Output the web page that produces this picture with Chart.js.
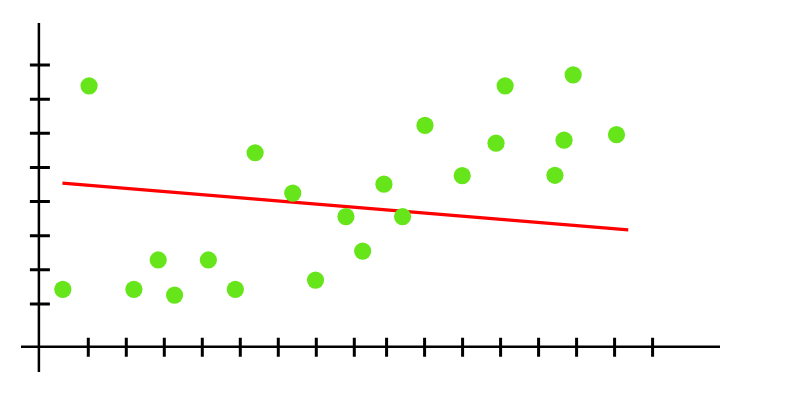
<!DOCTYPE html>
<html>
<head>
<meta charset="utf-8">
<script src="https://cdn.jsdelivr.net/npm/chart.js@4"></script>
<style>
  html, body { margin: 0; padding: 0; background: #ffffff; }
  #c { display: block; }
</style>
</head>
<body>
<canvas id="c" width="812" height="395"></canvas>
<script>
// ---- data ----
const pointsX = [0.33, 1.02, 2.20, 2.84, 3.27, 4.16, 4.87, 5.39, 6.38, 6.98, 7.78, 8.22, 8.78, 9.27, 9.86, 10.84, 11.73, 11.97, 13.28, 13.52, 13.76, 14.90];
const pointsY = [1.43, 7.39, 1.43, 2.29, 1.26, 2.29, 1.43, 5.43, 4.25, 1.70, 3.56, 2.55, 4.51, 3.56, 6.23, 4.76, 5.71, 7.39, 4.77, 5.80, 7.71, 5.96];
const trendX = [0.32, 15.21];
const trendY = [4.54, 3.17];
const xTicks = [1, 2, 3, 4, 5, 6, 7, 8, 8.85, 9.85, 10.85, 11.85, 12.85, 13.85, 14.85, 15.85];
const yTicks = [1, 2, 3, 4, 5, 6, 7, 8];
const axisCrossX = -0.3;   // x value where the vertical axis sits
const axisCrossY = -0.25;  // y value where the horizontal axis sits

const scatterData = pointsX.map((x, i) => ({ x: x, y: pointsY[i] }));
const trendData = trendX.map((x, i) => ({ x: x, y: trendY[i] }));

const axesPlugin = {
  id: 'crossAxes',
  beforeDatasetsDraw(chart) {
    const ctx = chart.ctx;
    const xs = chart.scales.x, ys = chart.scales.y;
    const area = chart.chartArea;
    const ax = xs.getPixelForValue(axisCrossX);
    const ay = ys.getPixelForValue(axisCrossY);
    ctx.save();
    ctx.strokeStyle = '#000000';
    ctx.lineCap = 'butt';
    ctx.lineWidth = 2.5;
    ctx.beginPath();
    ctx.moveTo(area.left, ay); ctx.lineTo(area.right, ay);
    ctx.moveTo(ax, area.top); ctx.lineTo(ax, area.bottom);
    ctx.stroke();
    ctx.lineWidth = 3;
    ctx.beginPath();
    xTicks.forEach(v => {
      const px = xs.getPixelForValue(v);
      ctx.moveTo(px, ay - 9); ctx.lineTo(px, ay + 10);
    });
    yTicks.forEach(v => {
      const py = ys.getPixelForValue(v);
      ctx.moveTo(ax - 9, py); ctx.lineTo(ax + 11, py);
    });
    ctx.stroke();
    ctx.restore();
  }
};

new Chart(document.getElementById('c'), {
  type: 'scatter',
  data: {
    datasets: [
      {
        type: 'line',
        data: trendData,
        borderColor: '#ff0000',
        borderWidth: 3.2,
        pointRadius: 0,
        fill: false,
        tension: 0,
        clip: false,
        order: 2
      },
      {
        type: 'scatter',
        data: scatterData,
        backgroundColor: '#66e61a',
        borderWidth: 0,
        pointRadius: 8.6,
        pointHoverRadius: 8.6,
        clip: false,
        order: 1
      }
    ]
  },
  options: {
    responsive: false,
    animation: false,
    events: [],
    layout: { padding: { left: 21, right: 92, top: 23, bottom: 23 } },
    plugins: { legend: { display: false }, tooltip: { enabled: false } },
    scales: {
      x: { type: 'linear', display: false, min: -0.771, max: 17.624 },
      y: { type: 'linear', display: false, min: -0.992, max: 9.231 }
    }
  },
  plugins: [axesPlugin]
});
</script>
</body>
</html>
